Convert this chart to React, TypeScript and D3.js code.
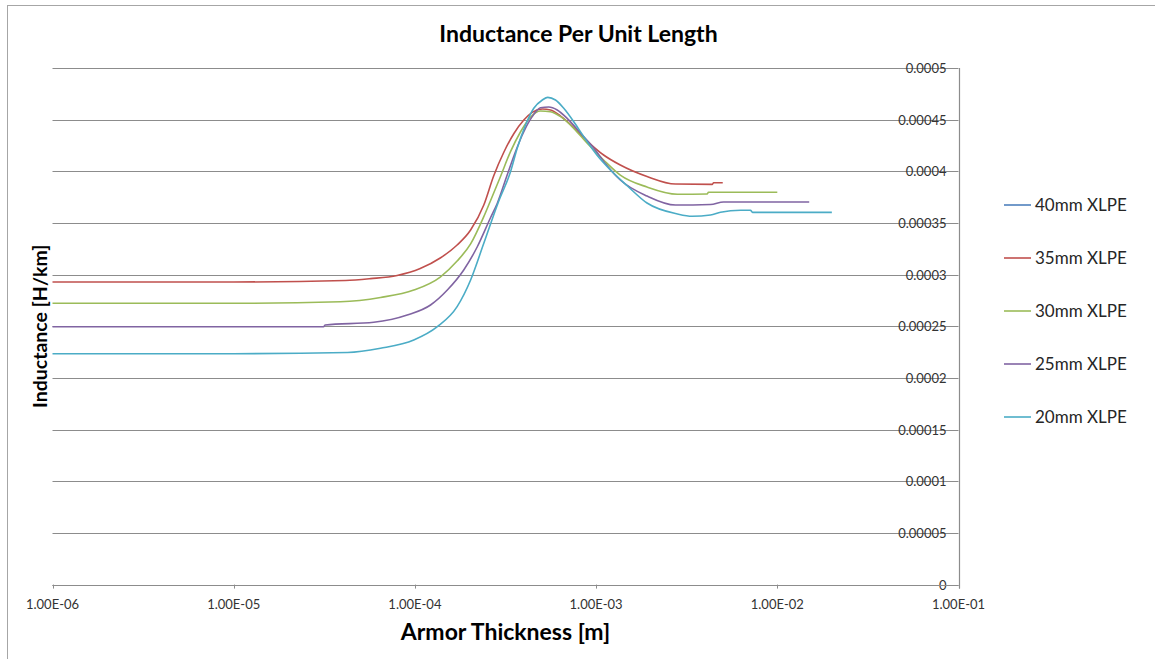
import React from "react";
import * as d3 from "d3";

// Inductance per unit length vs. armor thickness, for several XLPE insulation thicknesses.
// Each series: [armor thickness in m, inductance in H/km]

const seriesNames = ["40mm XLPE", "35mm XLPE", "30mm XLPE", "25mm XLPE", "20mm XLPE"];
const seriesColors = ["#4F81BD", "#C0504D", "#9BBB59", "#8064A2", "#4BACC6"];

const xlpe40: [number, number][] = [];

const xlpe35: [number, number][] = [
  [1e-6, 0.0002929], [1e-5, 0.0002929], [4.14e-5, 0.0002943], [5.69e-5, 0.0002961],
  [7.98e-5, 0.0002992], [1.07e-4, 0.0003059], [1.38e-4, 0.0003161], [1.71e-4, 0.0003287],
  [2.03e-4, 0.0003432], [2.4e-4, 0.0003674], [2.72e-4, 0.0003955], [3.1e-4, 0.0004187],
  [3.52e-4, 0.0004366], [3.99e-4, 0.0004497], [4.44e-4, 0.0004571], [5.05e-4, 0.0004603],
  [5.6e-4, 0.0004594], [6.37e-4, 0.0004535], [7.53e-4, 0.0004424], [8.93e-4, 0.0004293],
  [1.1e-3, 0.0004158], [1.36e-3, 0.0004061], [1.91e-3, 0.000395], [2.74e-3, 0.0003877],
  [4.38e-3, 0.0003874], [4.45e-3, 0.000389], [5e-3, 0.000389],
];

const xlpe30: [number, number][] = [
  [1e-6, 0.0002723], [1e-5, 0.0002723], [3.88e-5, 0.0002738], [6.46e-5, 0.0002779],
  [9.86e-5, 0.0002851], [1.38e-4, 0.0002977], [1.71e-4, 0.0003132], [2.03e-4, 0.0003297],
  [2.4e-4, 0.0003561], [2.61e-4, 0.0003713], [2.96e-4, 0.0003945], [3.37e-4, 0.000419],
  [3.83e-4, 0.0004383], [4.35e-4, 0.0004526], [4.93e-4, 0.0004584], [5.6e-4, 0.0004577],
  [6.37e-4, 0.0004529], [7.53e-4, 0.0004416], [8.93e-4, 0.0004271], [1.1e-3, 0.000411],
  [1.36e-3, 0.0003964], [1.91e-3, 0.0003848], [2.81e-3, 0.0003778], [4.1e-3, 0.0003781],
  [4.17e-3, 0.0003797], [1e-2, 0.0003797],
];

const xlpe25: [number, number][] = [
  [1e-6, 0.0002496], [1e-5, 0.0002496], [3.13e-5, 0.0002496], [3.2e-5, 0.0002513],
  [5.93e-5, 0.0002539], [9.07e-5, 0.0002609], [1.22e-4, 0.0002706], [1.51e-4, 0.0002851],
  [1.86e-4, 0.0003045], [2.21e-4, 0.000327], [2.61e-4, 0.0003548], [2.85e-4, 0.0003691],
  [3.23e-4, 0.0003964], [3.59e-4, 0.000419], [3.99e-4, 0.0004383], [4.44e-4, 0.0004529],
  [4.93e-4, 0.0004616], [5.48e-4, 0.0004623], [6.1e-4, 0.0004594], [6.92e-4, 0.0004513],
  [8.2e-4, 0.0004371], [9.71e-4, 0.0004226], [1.13e-3, 0.0004071], [1.36e-3, 0.0003916],
  [1.91e-3, 0.0003761], [2.74e-3, 0.0003674], [4.28e-3, 0.0003679], [5.05e-3, 0.0003703],
  [1.5e-2, 0.0003703],
];

const xlpe20: [number, number][] = [
  [1e-6, 0.0002235], [1e-5, 0.0002235], [4.25e-5, 0.0002246], [6.46e-5, 0.0002287],
  [9.86e-5, 0.0002367], [1.33e-4, 0.0002496], [1.71e-4, 0.000269], [2.03e-4, 0.0002948],
  [2.4e-4, 0.0003303], [2.89e-4, 0.0003703], [3.37e-4, 0.0003996], [3.67e-4, 0.0004223],
  [4.08e-4, 0.0004448], [4.53e-4, 0.000461], [5.05e-4, 0.000469], [5.41e-4, 0.0004716],
  [5.97e-4, 0.000469], [6.63e-4, 0.000461], [7.53e-4, 0.000448], [8.55e-4, 0.0004335],
  [1.01e-3, 0.0004158], [1.2e-3, 0.0004013], [1.49e-3, 0.0003858], [1.91e-3, 0.0003693],
  [2.81e-3, 0.0003587], [3.39e-3, 0.0003565], [4.28e-3, 0.0003577], [4.86e-3, 0.0003603],
  [6.27e-3, 0.0003623], [7.11e-3, 0.0003623], [7.3e-3, 0.0003603], [2e-2, 0.0003603],
];

const seriesData = [xlpe40, xlpe35, xlpe30, xlpe25, xlpe20];

const xTickValues = [1e-6, 1e-5, 1e-4, 1e-3, 1e-2, 1e-1];
const xTickLabels = ["1.00E-06", "1.00E-05", "1.00E-04", "1.00E-03", "1.00E-02", "1.00E-01"];
const yTickValues = [0, 0.00005, 0.0001, 0.00015, 0.0002, 0.00025, 0.0003, 0.00035, 0.0004, 0.00045, 0.0005];
const yTickLabels = ["0", "0.00005", "0.0001", "0.00015", "0.0002", "0.00025", "0.0003", "0.00035", "0.0004", "0.00045", "0.0005"];

const W = 1155;
const H = 659;
const FONT = "Lato, 'Open Sans', sans-serif";

export default function App() {
  const x = d3.scaleLog().domain([1e-6, 1e-1]).range([52.5, 958.5]);
  const y = d3.scaleLinear().domain([0, 0.0005]).range([584.6, 68]);

  const line = d3
    .line<[number, number]>()
    .x((d) => x(d[0]))
    .y((d) => y(d[1]))
    .curve(d3.curveMonotoneX);

  const [x0, x1] = x.range();
  const [yb, yt] = y.range();

  return (
    <svg
      width={W}
      height={H}
      style={{ position: "absolute", left: 0, top: 0, background: "#fff" }}
      fontFamily={FONT}
    >
      <rect x={0} y={0} width={W} height={H} fill="#fff" />
      {/* chart area frame */}
      <rect x={7.5} y={5.5} width={W + 20} height={H + 20} fill="none" stroke="#a6a6a6" strokeWidth={1} />

      {/* title */}
      <text x={578.5} y={42} textAnchor="middle" fontSize={23} fontWeight="bold" fill="#000">
        Inductance Per Unit Length
      </text>

      {/* horizontal gridlines */}
      {yTickValues.map((v) => (
        <line key={"g" + v} x1={x0} x2={x1} y1={Math.round(y(v)) + 0.5} y2={Math.round(y(v)) + 0.5} stroke="#8c8c8c" strokeWidth={1} />
      ))}

      {/* value axis on the right */}
      <line x1={Math.round(x1) + 0.5} x2={Math.round(x1) + 0.5} y1={yt} y2={yb + 4} stroke="#8c8c8c" strokeWidth={1.2} />
      {yTickValues.map((v, i) => (
        <text key={"yl" + v} x={x1 - 12} y={Math.round(y(v)) + 5} textAnchor="end" fontSize={13} fill="#333">
          {yTickLabels[i]}
        </text>
      ))}

      {/* category axis */}
      <line x1={x0} x2={x1} y1={Math.round(yb) + 0.5} y2={Math.round(yb) + 0.5} stroke="#8c8c8c" strokeWidth={1.2} />
      {xTickValues.map((v, i) => (
        <g key={"xt" + v}>
          <line x1={Math.round(x(v)) + 0.5} x2={Math.round(x(v)) + 0.5} y1={yb} y2={yb + 4} stroke="#8c8c8c" />
          <text x={x(v)} y={609} textAnchor="middle" fontSize={13} fill="#333">
            {xTickLabels[i]}
          </text>
        </g>
      ))}

      {/* axis titles */}
      <text x={505.5} y={640} textAnchor="middle" fontSize={23} fontWeight="bold" fill="#000">
        Armor Thickness [m]
      </text>
      <text
        transform={`translate(47, ${(yt + yb) / 2}) rotate(-90)`}
        textAnchor="middle"
        fontSize={19.5}
        fontWeight="bold"
        fill="#000"
      >
        Inductance [H/km]
      </text>

      {/* series */}
      {seriesData.map((data, i) =>
        data.length > 1 ? (
          <path key={"s" + i} d={line(data) ?? ""} fill="none" stroke={seriesColors[i]} strokeWidth={1.6} />
        ) : null
      )}

      {/* legend */}
      {seriesNames.map((name, i) => {
        const cy = 205 + i * 53;
        return (
          <g key={"lg" + name}>
            <line x1={1004} x2={1031} y1={cy} y2={cy} stroke={seriesColors[i]} strokeWidth={1.6} />
            <text x={1035} y={cy + 6} fontSize={17} fill="#262626">
              {name}
            </text>
          </g>
        );
      })}
    </svg>
  );
}
